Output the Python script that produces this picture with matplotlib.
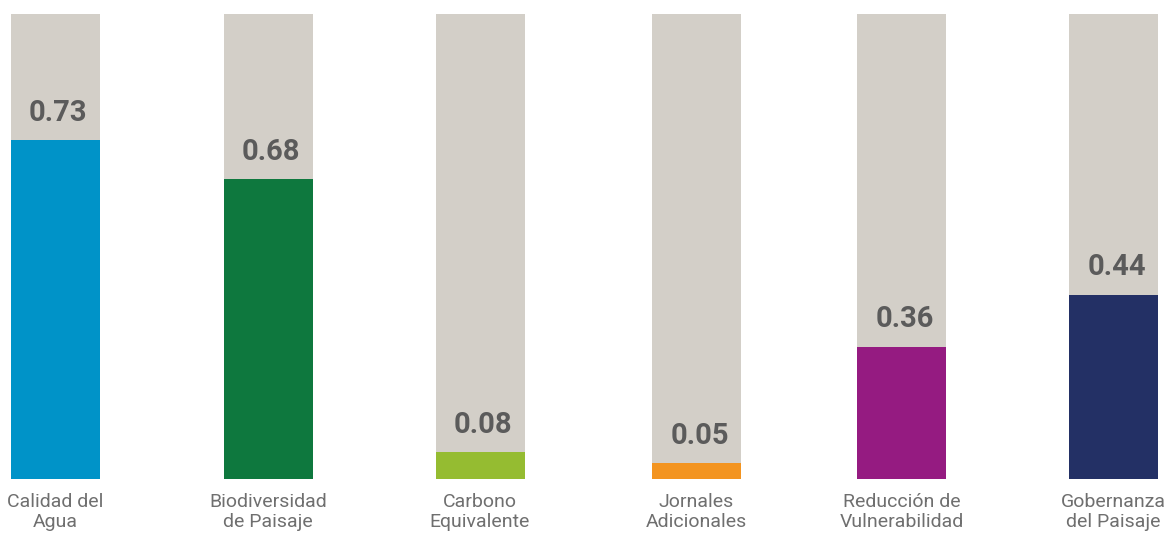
import matplotlib

matplotlib.use("Agg")
import matplotlib.pyplot as plt

# Kategorien (zweizeilig wie im Original)
categories = [
    "Calidad del\nAgua",
    "Biodiversidad\nde Paisaje",
    "Carbono\nEquivalente",
    "Jornales\nAdicionales",
    "Reducción de\nVulnerabilidad",
    "Gobernanza\ndel Paisaje",
]
# angezeigte Werte
values = [0.73, 0.68, 0.08, 0.05, 0.36, 0.44]
# Fuellhoehe der Balken (Skala 0..1)
fill_level = [0.729, 0.645, 0.058, 0.034, 0.284, 0.396]
colors = ["#0093C8", "#0E783E", "#95BC31", "#F39420", "#951B81", "#233065"]

BG = "#D3CFC8"
VAL_COLOR = "#5B5B5B"
CAT_COLOR = "#6F6F6F"

# Layout: Balkenmitten in Pixeln (Original ist nicht ganz gleichmaessig)
x_pos = [55, 268, 480, 696.5, 901.5, 1113.5]
width = 89

fig = plt.figure(figsize=(11.7, 5.34), dpi=100)
ax = fig.add_axes([0, 1 - 479 / 534, 1, 465 / 534])

ax.bar(x_pos, [1.0] * len(x_pos), width=width, color=BG, zorder=1)
ax.bar(x_pos, fill_level, width=width, color=colors, zorder=2)

for xi, v, f in zip(x_pos, values, fill_level):
    ax.text(xi + 3, f + 0.029, f"{v:.2f}", ha="center", va="bottom",
            fontsize=21, fontweight="bold", color=VAL_COLOR,
            family="Roboto")

for xi, c in zip(x_pos, categories):
    ax.text(xi, -0.031, c, ha="center", va="top", fontsize=14,
            color=CAT_COLOR, family="Roboto", linespacing=1.12,
            clip_on=False)

ax.set_xlim(0, 1170)
ax.set_ylim(0, 1)
ax.axis("off")

fig.savefig("out.png", dpi=100)
